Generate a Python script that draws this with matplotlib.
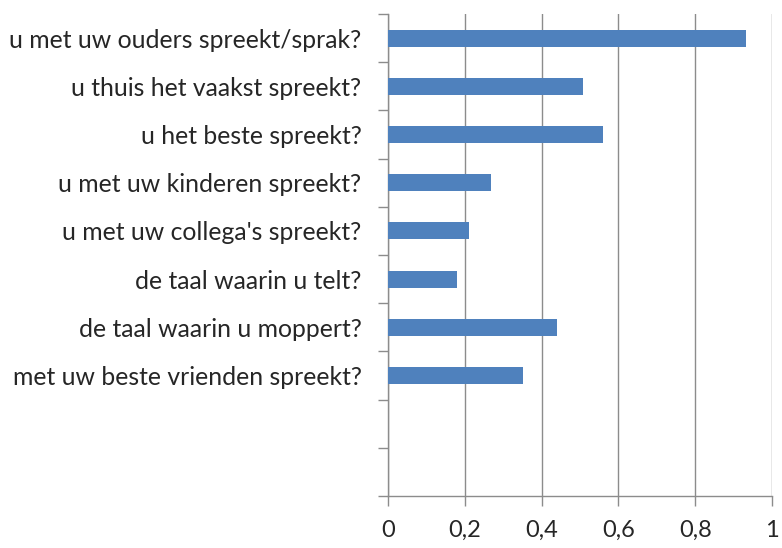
import numpy as np
import matplotlib.pyplot as plt
from matplotlib.ticker import FixedLocator

# categorieen (van boven naar beneden) en waarden
vragen = [
    "u met uw ouders spreekt/sprak?",
    "u thuis het vaakst spreekt?",
    "u het beste spreekt?",
    "u met uw kinderen spreekt?",
    "u met uw collega's spreekt?",
    "de taal waarin u telt?",
    "de taal waarin u moppert?",
    "met uw beste vrienden spreekt?",
]
waarden = [0.933, 0.508, 0.56, 0.269, 0.211, 0.18, 0.44, 0.352]
n_slots = 10  # twee lege plekken onderaan
x_ticks = [0, 0.2, 0.4, 0.6, 0.8, 1.0]
x_labels = ["0", "0,2", "0,4", "0,6", "0,8", "1"]

plt.rcParams['font.family'] = ['Lato', 'DejaVu Sans']

fig = plt.figure(figsize=(7.82, 5.48), dpi=100)
ax = fig.add_axes([388 / 782, 1 - 496 / 548, (772 - 388) / 782, (496 - 14) / 548])

grijs = '#8c8c8c'
pos = np.arange(len(vragen)) + 0.5
ax.barh(pos, waarden, height=0.35, color='#4F81BD', zorder=3)

ax.set_xlim(0, 1)
ax.set_ylim(n_slots, 0)

ax.set_xticks(x_ticks)
ax.set_xticklabels(x_labels, fontsize=17, color='#262626')
ax.set_yticks(pos)
ax.set_yticklabels(vragen, fontsize=17.8, color='#262626')
ax.yaxis.set_minor_locator(FixedLocator(np.arange(n_slots + 1)))

ax.tick_params(axis='y', which='major', length=0, pad=19)
ax.tick_params(axis='y', which='minor', length=7, width=1, color=grijs)
ax.tick_params(axis='x', which='major', length=7, width=1, color=grijs, pad=10)

ax.grid(axis='x', color=grijs, linewidth=1, zorder=0)
for s in ['top', 'right']:
    ax.spines[s].set_visible(False)
for s in ['left', 'bottom']:
    ax.spines[s].set_color(grijs)
    ax.spines[s].set_linewidth(1)

fig.savefig("out.png", dpi=100)
